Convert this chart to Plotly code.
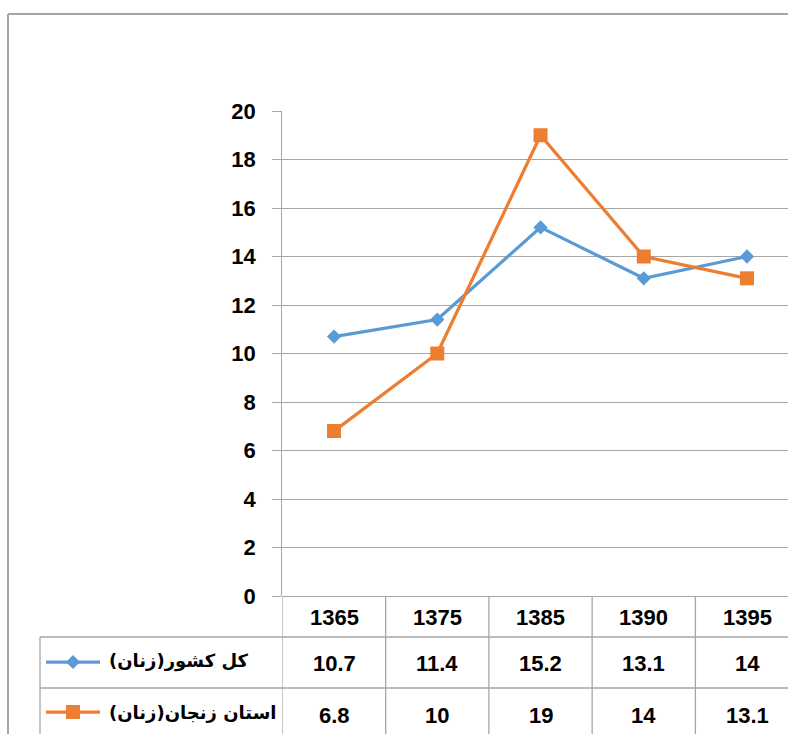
import plotly.graph_objects as go

# ---------------- data ----------------
years = ["1365", "1375", "1385", "1390", "1395"]
country_name = "کل کشور(زنان)"
country_vals = [10.7, 11.4, 15.2, 13.1, 14]
zanjan_name = "استان زنجان(زنان)"
zanjan_vals = [6.8, 10, 19, 14, 13.1]
y_ticks = [0, 2, 4, 6, 8, 10, 12, 14, 16, 18, 20]

# ---------------- styling ----------------
W, H = 788, 734
BLUE = "#5B9BD5"
ORANGE = "#ED7D31"
GRID = "#A6A6A6"
FONT = "Liberation Sans, Arial, DejaVu Sans, sans-serif"
TXT = "#000000"
RLM = "\u200F"

def px(x):
    return x / W

def py(y):
    return 1 - y / H

plot_left, plot_top, plot_bottom = 282.4, 111, 596
cat_w = 103.25
x_end = (W - plot_left) / cat_w - 0.5

fig = go.Figure()

fig.add_trace(go.Scatter(
    x=years, y=country_vals, name=country_name, mode="lines+markers",
    line=dict(color=BLUE, width=3.25), marker=dict(symbol="diamond", size=11, color=BLUE),
    showlegend=False))
fig.add_trace(go.Scatter(
    x=years, y=zanjan_vals, name=zanjan_name, mode="lines+markers",
    line=dict(color=ORANGE, width=3.25), marker=dict(symbol="square", size=14, color=ORANGE),
    showlegend=False))

shapes = []
# outer chart border (top & left visible)
shapes.append(dict(type="line", xref="paper", yref="paper", x0=px(8), x1=px(W + 5),
                   y0=py(14), y1=py(14), line=dict(color=GRID, width=2)))
shapes.append(dict(type="line", xref="paper", yref="paper", x0=px(8), x1=px(8),
                   y0=py(14), y1=py(H + 5), line=dict(color=GRID, width=2)))

# data table grid
tbl_lw = 1.3
for yy in (637, 688):
    shapes.append(dict(type="line", xref="paper", yref="paper", x0=px(40), x1=px(W + 5),
                       y0=py(yy), y1=py(yy), line=dict(color=GRID, width=tbl_lw)))
shapes.append(dict(type="line", xref="paper", yref="paper", x0=px(40), x1=px(40),
                   y0=py(637), y1=py(H + 5), line=dict(color=GRID, width=tbl_lw)))
for i in range(len(years) + 1):
    shapes.append(dict(type="line", xref="x", yref="paper", x0=i - 0.5, x1=i - 0.5,
                       y0=py(plot_bottom), y1=py(H + 5), line=dict(color=GRID, width=tbl_lw)))

# legend keys in the table's label column
row_y = [662, 712]
key_cols = [BLUE, ORANGE]
for col, ry in zip(key_cols, row_y):
    shapes.append(dict(type="line", xref="paper", yref="paper", x0=px(46), x1=px(100),
                       y0=py(ry), y1=py(ry), line=dict(color=col, width=3.25)))
# diamond key
cx, cy, r = 73, row_y[0], 7
shapes.append(dict(type="path", xref="paper", yref="paper",
                   path=f"M {px(cx-r)},{py(cy)} L {px(cx)},{py(cy-r)} L {px(cx+r)},{py(cy)} L {px(cx)},{py(cy+r)} Z",
                   fillcolor=BLUE, line=dict(color=BLUE, width=0)))
# square key
cx, cy, s = 73, row_y[1], 7
shapes.append(dict(type="rect", xref="paper", yref="paper",
                   x0=px(cx - s), x1=px(cx + s), y0=py(cy - s), y1=py(cy + s),
                   fillcolor=ORANGE, line=dict(color=ORANGE, width=0)))

annotations = []
num_font = dict(family=FONT, size=22, color=TXT, weight="bold")
for i, yr in enumerate(years):
    annotations.append(dict(x=i, xref="x", y=py(617), yref="paper", text=yr, showarrow=False,
                            font=num_font, xanchor="center", yanchor="middle"))
    annotations.append(dict(x=i, xref="x", y=py(663), yref="paper", text=f"{country_vals[i]:g}",
                            showarrow=False, font=num_font, xanchor="center", yanchor="middle"))
    annotations.append(dict(x=i, xref="x", y=py(715), yref="paper", text=f"{zanjan_vals[i]:g}",
                            showarrow=False, font=num_font, xanchor="center", yanchor="middle"))

lab_font = dict(family="DejaVu Sans, Noto Sans, sans-serif", size=18, color=TXT, weight="bold")
annotations.append(dict(x=px(107), xref="paper", y=py(661), yref="paper",
                        text=RLM + country_name + RLM,
                        showarrow=False, font=lab_font, xanchor="left", yanchor="middle"))
annotations.append(dict(x=px(107), xref="paper", y=py(712), yref="paper",
                        text=RLM + zanjan_name + RLM,
                        showarrow=False, font=lab_font, xanchor="left", yanchor="middle"))

fig.update_layout(
    width=W, height=H,
    margin=dict(l=0, r=0, t=0, b=0, autoexpand=False),
    paper_bgcolor="white", plot_bgcolor="white",
    showlegend=False,
    xaxis=dict(type="category", domain=[px(plot_left), 1], range=[-0.5, x_end],
               showticklabels=False, showgrid=False, zeroline=False, ticks="",
               showline=False, fixedrange=True, automargin=False),
    yaxis=dict(domain=[py(plot_bottom), py(plot_top)], range=[0, 20],
               tickvals=y_ticks, ticktext=[str(v) for v in y_ticks],
               showgrid=True, gridcolor=GRID, gridwidth=1.3,
               zeroline=True, zerolinecolor=GRID, zerolinewidth=1.3,
               showline=True, linecolor=GRID, linewidth=1.3,
               ticks="outside", ticklen=9, tickcolor=GRID, tickwidth=1.3,
               ticklabelstandoff=12, automargin=False,
               tickfont=dict(family=FONT, size=22, color=TXT, weight="bold"),
               fixedrange=True),
    shapes=shapes,
    annotations=annotations,
)

fig.write_html("out.html", config={"displayModeBar": False},
               post_script="document.body.style.margin='0';document.body.style.overflow='hidden';")
